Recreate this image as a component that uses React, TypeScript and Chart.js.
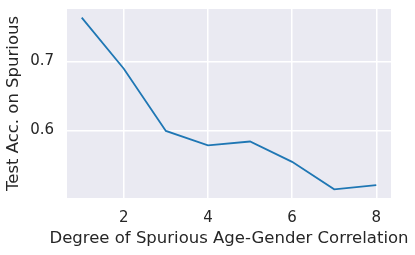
import React, { useEffect, useRef } from "react";
import { Chart, registerables } from "chart.js";

Chart.register(...registerables);

const xValues = [1, 2, 3, 4, 5, 6, 7, 8];
const accValues = [0.764, 0.6895, 0.599, 0.578, 0.5836, 0.554, 0.514, 0.52];
const xTicks = [2, 4, 6, 8];
const yTicks = [0.6, 0.7];
const xTitle = "Degree of Spurious Age-Gender Correlation";
const yTitle = "Test Acc. on Spurious";

const FAMILY = "'DejaVu Sans', sans-serif";

const bgPlugin = {
  id: "plotBg",
  beforeDraw(chart: any) {
    const { ctx, chartArea } = chart;
    ctx.save();
    ctx.fillStyle = "#EAEAF2";
    ctx.fillRect(chartArea.left, chartArea.top, chartArea.right - chartArea.left, chartArea.bottom - chartArea.top);
    ctx.restore();
  },
  afterDraw(chart: any) {
    const { ctx, chartArea } = chart;
    ctx.save();
    ctx.fillStyle = "#262626";
    ctx.font = `16.5px ${FAMILY}`;
    ctx.textAlign = "center";
    ctx.textBaseline = "middle";
    ctx.fillText(xTitle, (chartArea.left + chartArea.right) / 2, 239);
    ctx.restore();
  },
};

export default function App() {
  const ref = useRef<HTMLCanvasElement>(null);
  useEffect(() => {
    if (!ref.current) return;
    const tickFont = { family: FAMILY, size: 15 };
    const titleFont = { family: FAMILY, size: 16.5 };
    const chart = new Chart(ref.current, {
      type: "line",
      data: {
        datasets: [
          {
            data: xValues.map((x, i) => ({ x, y: accValues[i] })),
            borderColor: "#1f77b4",
            borderWidth: 1.8,
            pointRadius: 0,
            fill: false,
            tension: 0,
          },
        ],
      },
      options: {
        animation: false,
        responsive: false,
        maintainAspectRatio: false,
        layout: { padding: { top: 9, right: 24, left: 0, bottom: 0 } },
        plugins: { legend: { display: false }, tooltip: { enabled: false } },
        scales: {
          x: {
            type: "linear",
            min: 0.65,
            max: 8.35,
            afterBuildTicks: (axis: any) => {
              axis.ticks = xTicks.map((v) => ({ value: v }));
            },
            afterFit: (scale: any) => {
              scale.height = 57;
              scale.paddingLeft = 0;
              scale.paddingRight = 0;
            },
            grid: { color: "#ffffff", lineWidth: 1.5, drawTicks: false },
            border: { display: false },
            ticks: { font: tickFont, color: "#262626", padding: 11, maxRotation: 0, callback: (v: any) => String(v) },
            title: { display: false },
          },
          y: {
            type: "linear",
            min: 0.5014,
            max: 0.7765,
            afterBuildTicks: (axis: any) => {
              axis.ticks = yTicks.map((v) => ({ value: v }));
            },
            afterFit: (scale: any) => {
              scale.width = 67;
              scale.paddingTop = 0;
              scale.paddingBottom = 0;
            },
            grid: { color: "#ffffff", lineWidth: 1.5, drawTicks: false },
            border: { display: false },
            ticks: { font: tickFont, color: "#262626", padding: 13, callback: (v: any) => Number(v).toFixed(1) },
            title: {
              display: true,
              text: yTitle,
              font: titleFont,
              color: "#262626",
              padding: { top: 4, bottom: 0 },
            },
          },
        },
      },
      plugins: [bgPlugin],
    });
    return () => chart.destroy();
  }, []);
  return (
    <div style={{ position: "fixed", left: 0, top: 0, width: 415, height: 255, background: "#fff" }}>
      <canvas ref={ref} width={415} height={255} style={{ width: 415, height: 255 }} />
    </div>
  );
}
